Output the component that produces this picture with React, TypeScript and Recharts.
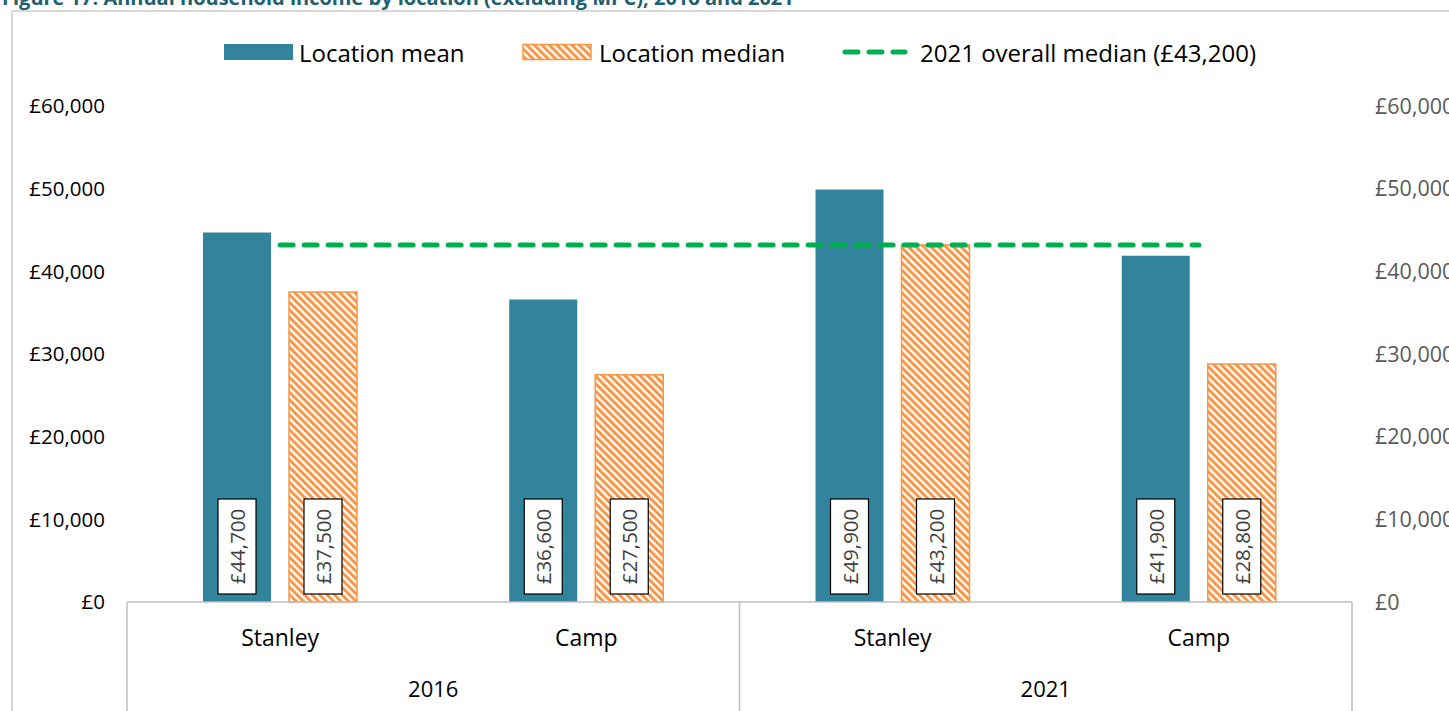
import React from "react";
import { ComposedChart, Bar, Line, XAxis, YAxis, LabelList } from "recharts";

const categories = ["Stanley", "Camp", "Stanley", "Camp"];
const years = ["2016", "2016", "2021", "2021"];
const locationMean = [44700, 36600, 49900, 41900];
const locationMedian = [37500, 27500, 43200, 28800];
const overallMedian = [43200, 43200, 43200, 43200];
const yTicks = [0, 10000, 20000, 30000, 40000, 50000, 60000];

const data = categories.map((c, i) => ({
  key: `${years[i]}-${c}`,
  location: c,
  year: years[i],
  mean: locationMean[i],
  median: locationMedian[i],
  overall: overallMedian[i],
}));

const FONT = "'Open Sans', sans-serif";
const TEAL = "#31849B";
const ORANGE = "#F79646";
const GREEN = "#00B050";

const money = (v: number) => "£" + v.toLocaleString("en-GB");

const ValueBox = (props: any) => {
  const { x, y, width, height, value } = props;
  const cx = x + width / 2;
  const bottom = y + height - 8;
  const bh = 95;
  const bw = 38;
  const cy = bottom - bh / 2;
  return (
    <g>
      <rect x={cx - bw / 2} y={bottom - bh} width={bw} height={bh} fill="#fff" stroke="#000" strokeWidth={1.2} />
      <text
        x={cx}
        y={cy}
        transform={`rotate(-90 ${cx} ${cy})`}
        textAnchor="middle"
        dominantBaseline="central"
        fontSize={20.5}
        fill="#404040"
        fontFamily={FONT}
      >
        {money(Number(value))}
      </text>
    </g>
  );
};

// two-level category axis: location on top, year below, with separators
const CategoryTick = (props: any) => {
  const { x, y, index, width } = props;
  const row = data[index];
  if (!row) return null;
  const band = (width || 1225) / data.length;
  const first = index === 0 || data[index - 1].year !== row.year;
  const last = index === data.length - 1;
  return (
    <g>
      <text x={x} y={y + 35} textAnchor="middle" dominantBaseline="central" fontSize={23} fill="#000" fontFamily={FONT}>
        {row.location}
      </text>
      {first && (
        <>
          <line x1={x - band / 2} x2={x - band / 2} y1={y} y2={y + 120} stroke="#BFBFBF" strokeWidth={1.5} />
          <text x={x + band / 2} y={y + 86} textAnchor="middle" dominantBaseline="central" fontSize={22} fill="#000" fontFamily={FONT}>
            {row.year}
          </text>
        </>
      )}
      {last && <line x1={x + band / 2} x2={x + band / 2} y1={y} y2={y + 120} stroke="#BFBFBF" strokeWidth={1.5} />}
    </g>
  );
};

export default function App() {
  return (
    <div style={{ position: "absolute", left: 0, top: 0, width: 1449, height: 711, overflow: "hidden", background: "#fff" }}>
      <svg width={1449} height={711} style={{ position: "absolute", left: 0, top: 0 }}>
        <defs>
          <pattern id="hatch" patternUnits="userSpaceOnUse" width={5.3} height={5.3} patternTransform="rotate(-45)">
            <rect width={5.3} height={5.3} fill="#fff" />
            <rect width={3} height={5.3} fill={ORANGE} />
          </pattern>
        </defs>
        <text x={2} y={5} fontSize={20} fontWeight={700} fill="#215E6E" fontFamily={FONT}>
          Figure 17: Annual household income by location (excluding MPC), 2016 and 2021
        </text>
        <line x1={12} x2={1449} y1={11} y2={11} stroke="#D9D9D9" strokeWidth={2} />
        <line x1={12} x2={12} y1={11} y2={711} stroke="#D9D9D9" strokeWidth={2} />
        <g fontFamily={FONT} fontSize={24} fill="#000">
          <rect x={224} y={44} width={69} height={16} fill={TEAL} />
          <text x={299} y={52} dominantBaseline="central">Location mean</text>
          <rect x={523} y={44.5} width={68} height={15} fill="url(#hatch)" stroke={ORANGE} strokeWidth={1.5} />
          <text x={599} y={52} dominantBaseline="central">Location median</text>
          <line x1={845} x2={905} y1={52} y2={52} stroke={GREEN} strokeWidth={5} strokeDasharray="13 11" strokeLinecap="round" />
          <text x={920} y={52} dominantBaseline="central">2021 overall median (£43,200)</text>
        </g>
      </svg>
      <div style={{ position: "absolute", left: 0, top: 0 }}>
        <ComposedChart width={1449} height={711} data={data} margin={{ top: 106, right: 0, bottom: 0, left: 0 }} barGap={18}>
          <XAxis
            dataKey="key"
            height={109}
            tick={<CategoryTick />}
            tickLine={false}
            tickSize={0}
            tickMargin={0}
            axisLine={{ stroke: "#BFBFBF", strokeWidth: 1.5 }}
            interval={0}
          />
          <YAxis
            yAxisId="left"
            width={127}
            domain={[0, 60000]}
            ticks={yTicks}
            tickFormatter={money}
            axisLine={false}
            tickLine={false}
            tickSize={0}
            tickMargin={22}
            tick={{ fontSize: 20.5, fill: "#000", fontFamily: FONT }}
          />
          <YAxis
            yAxisId="right"
            orientation="right"
            width={97}
            domain={[0, 60000]}
            ticks={yTicks}
            tickFormatter={money}
            axisLine={false}
            tickLine={false}
            tickSize={0}
            tickMargin={23}
            tick={{ fontSize: 21.5, fill: "#595959", fontFamily: FONT, textAnchor: "start" }}
          />
          <Bar yAxisId="left" dataKey="mean" name="Location mean" fill={TEAL} barSize={68} isAnimationActive={false}>
            <LabelList dataKey="mean" content={<ValueBox />} />
          </Bar>
          <Bar
            yAxisId="left"
            dataKey="median"
            name="Location median"
            fill="url(#hatch)"
            stroke={ORANGE}
            strokeWidth={1.5}
            barSize={68}
            isAnimationActive={false}
          >
            <LabelList dataKey="median" content={<ValueBox />} />
          </Bar>
          <Line
            yAxisId="right"
            type="linear"
            dataKey="overall"
            name="2021 overall median (£43,200)"
            stroke={GREEN}
            strokeWidth={5}
            strokeDasharray="13 11"
            strokeLinecap="round"
            dot={false}
            activeDot={false}
            isAnimationActive={false}
          />
        </ComposedChart>
      </div>
    </div>
  );
}
